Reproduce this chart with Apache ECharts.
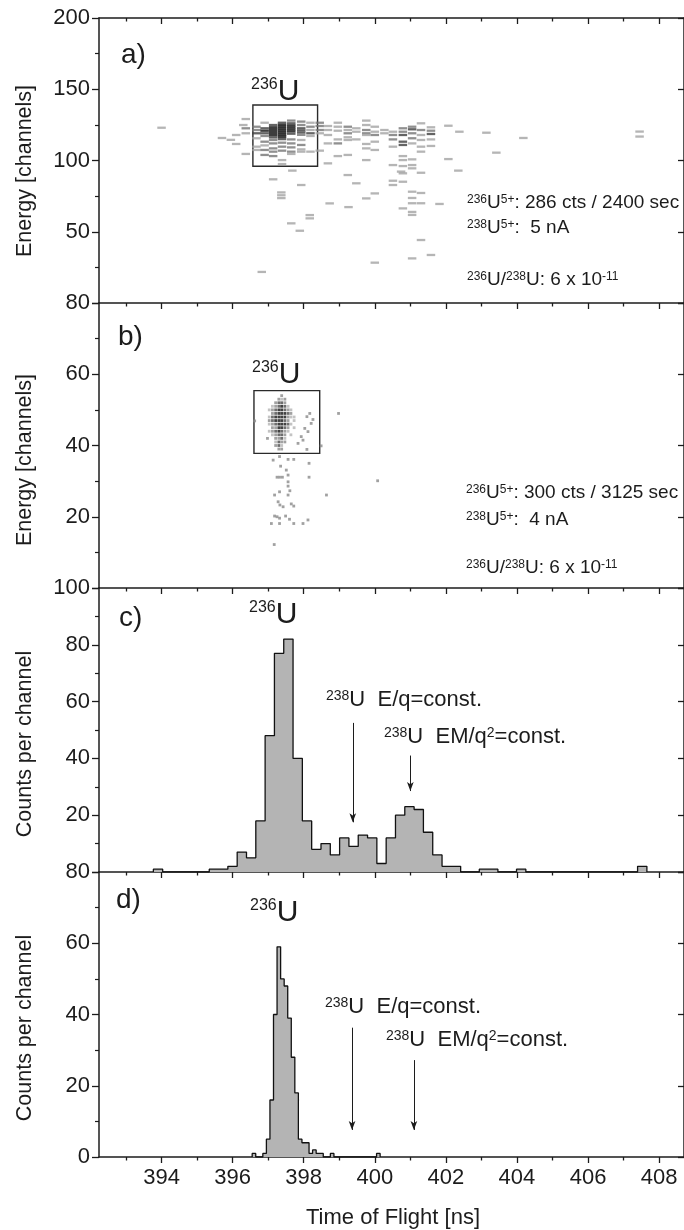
<!DOCTYPE html>
<html>
<head>
<meta charset="utf-8">
<title>236U time of flight spectra</title>
<script src="https://cdn.jsdelivr.net/npm/echarts@6/dist/echarts.min.js"></script>
<style>
  html, body { margin: 0; padding: 0; background: #fff; }
  #main { width: 684px; height: 1230px; }
</style>
</head>
<body>
<div id="main"></div>
<script>
// ---- data ----
var tofMin = 392.24, tofMax = 408.7;
var majorTicks = [394, 396, 398, 400, 402, 404, 406, 408];
var minorTicks = [393, 395, 397, 399, 401, 403, 405, 407];

// a) energy vs TOF, cells [tof, energy, shade 1..4]
var scatterA = [
  [394.0, 123.0, 1], [395.7, 115.8, 1], [395.95, 114.5, 1], [396.1, 117.9, 1], [396.1, 111.6, 1],
  [396.37, 129.1, 1], [396.37, 122.6, 2], [396.37, 119.1, 1], [396.37, 104.6, 1], [396.3, 124.9, 1],
  [396.67, 123.7, 2], [396.67, 121.4, 2], [396.67, 119.1, 3], [396.67, 115.6, 1], [396.67, 109.7, 1], [396.67, 107.4, 1],
  [396.9, 126.5, 1], [396.9, 122.6, 3], [396.9, 120.9, 4], [396.9, 119.1, 3], [396.9, 117.2, 2], [396.9, 113.2, 2],
  [396.9, 110.6, 1], [396.9, 107.4, 2], [396.9, 103.9, 2],
  [397.14, 124.9, 3], [397.14, 123.3, 4], [397.14, 121.9, 4], [397.14, 120.5, 4], [397.14, 119.1, 4], [397.14, 117.7, 4],
  [397.14, 116.2, 3], [397.14, 114.4, 2], [397.14, 112.0, 2], [397.14, 108.5, 2], [397.14, 106.2, 2], [397.14, 103.1, 2],
  [397.39, 126.5, 3], [397.39, 125.0, 4], [397.39, 123.6, 4], [397.39, 122.2, 4], [397.39, 120.8, 4], [397.39, 119.4, 4],
  [397.39, 118.0, 4], [397.39, 116.6, 4], [397.39, 115.0, 3], [397.39, 112.5, 2], [397.39, 109.7, 2], [397.39, 106.9, 2],
  [397.39, 100.3, 1], [397.39, 97.5, 1],
  [397.65, 128.0, 2], [397.65, 126.1, 3], [397.65, 124.6, 4], [397.65, 123.2, 4], [397.65, 121.8, 4], [397.65, 120.4, 4],
  [397.65, 118.8, 3], [397.65, 114.8, 2], [397.65, 112.0, 2], [397.65, 109.2, 2], [397.65, 106.2, 2], [397.65, 104.6, 1],
  [397.93, 127.3, 2], [397.93, 124.9, 2], [397.93, 122.6, 3], [397.93, 121.1, 3], [397.93, 119.6, 3], [397.93, 118.0, 2],
  [397.93, 114.4, 1], [397.93, 110.9, 2], [397.93, 107.8, 1], [397.93, 106.2, 1],
  [398.19, 126.5, 1], [398.19, 123.7, 2], [398.19, 121.4, 1], [398.19, 119.1, 3], [398.19, 117.2, 1], [398.19, 106.2, 1],
  [398.45, 126.5, 2], [398.45, 124.2, 2], [398.45, 121.4, 2], [398.45, 119.1, 1], [398.45, 106.9, 1],
  [398.68, 124.2, 1], [398.68, 121.4, 1], [398.68, 117.9, 1], [398.68, 112.0, 1], [398.68, 98.0, 1],
  [398.96, 126.5, 1], [398.96, 123.7, 1], [398.96, 120.9, 1], [398.96, 114.8, 1], [398.96, 112.0, 2], [398.96, 103.1, 1],
  [399.24, 123.7, 2], [399.24, 121.4, 1], [399.24, 119.1, 2], [399.24, 116.3, 1], [399.24, 114.4, 1], [399.24, 103.9, 1],
  [399.24, 89.8, 1], [399.26, 67.3, 1],
  [399.48, 122.6, 1], [399.48, 120.2, 1], [399.48, 114.8, 1], [399.48, 84.0, 1],
  [399.76, 128.0, 1], [399.76, 124.9, 1], [399.76, 121.4, 2], [399.76, 119.1, 2], [399.76, 117.9, 1], [399.76, 111.6, 1],
  [399.76, 108.5, 1], [399.76, 100.3, 1], [399.76, 73.4, 1],
  [400.0, 123.7, 1], [400.0, 120.2, 1], [400.0, 117.9, 2], [400.0, 113.2, 1], [400.0, 107.4, 1], [400.0, 76.9, 1], [400.0, 28.3, 1],
  [400.27, 121.4, 1], [400.27, 119.1, 1],
  [400.51, 120.2, 1], [400.51, 117.9, 2], [400.51, 114.8, 2], [400.51, 109.7, 1], [400.51, 96.8, 1], [400.51, 85.8, 1], [400.51, 82.8, 1],
  [400.79, 122.6, 2], [400.79, 120.2, 2], [400.79, 117.9, 3], [400.79, 113.2, 3], [400.79, 110.9, 3], [400.79, 103.1, 1],
  [400.79, 100.3, 1], [400.79, 96.1, 1], [400.79, 91.0, 1], [400.79, 85.1, 1], [400.79, 66.4, 1],
  [401.05, 123.7, 2], [401.05, 121.9, 3], [401.05, 119.1, 2], [401.05, 115.6, 2], [401.05, 112.0, 1], [401.05, 100.8, 1],
  [401.05, 96.8, 1], [401.05, 94.5, 1], [401.05, 78.1, 1], [401.05, 73.7, 1], [401.05, 70.0, 1], [401.05, 63.9, 1],
  [401.05, 61.8, 1], [401.05, 31.3, 1],
  [401.3, 126.1, 1], [401.3, 121.4, 2], [401.3, 117.9, 1], [401.3, 114.4, 1], [401.3, 109.7, 1], [401.3, 106.2, 1],
  [401.3, 91.4, 1], [401.3, 77.2, 1], [401.3, 70.0, 1], [401.3, 44.2, 1],
  [401.58, 123.3, 1], [401.58, 120.9, 2], [401.58, 118.6, 3], [401.58, 114.8, 1], [401.58, 110.2, 1], [401.58, 33.7, 1],
  [401.82, 69.5, 1], [402.07, 124.4, 1], [402.07, 101.0, 1], [402.38, 120.2, 1], [402.35, 92.9, 1],
  [403.14, 119.5, 1], [403.42, 105.5, 1], [404.18, 115.8, 1], [407.45, 120.3, 1], [407.45, 116.8, 1],
  [396.82, 21.8, 1], [397.65, 55.9, 1], [397.89, 50.7, 1], [398.17, 61.7, 1], [398.17, 59.4, 1],
  [397.37, 77.6, 1], [397.37, 75.6, 1], [397.37, 73.6, 1], [397.14, 86.8, 1], [397.93, 82.8, 1],
  [397.68, 92.9, 1], [398.73, 69.9, 1], [400.74, 92.2, 1]
];

// b) core of the energy-TOF map: shade of each cell, one string per energy row
var coreBTof = [397.03, 397.12, 397.21, 397.30, 397.38, 397.47, 397.56, 397.64, 397.73, 397.82];
var coreBEnergy = [54, 53, 52, 51, 50, 49, 48, 47, 46, 45, 44, 43, 42, 41, 40, 39];
var coreBShade = [
  '0000200000',
  '0002120000',
  '0023320000',
  '0123431000',
  '1234432100',
  '0234443200',
  '1344442110',
  '2344432010',
  '1234443100',
  '0224432010',
  '1234321000',
  '0123320100',
  '0022310000',
  '0013220000',
  '0023100000',
  '0002200000'
];
// b) single counts outside the core [tof, energy]
var scatterB = [
  [396.62, 46.9], [396.98, 42.0],
  [398.17, 49.0], [398.09, 48.1], [398.26, 47.3], [398.21, 46.2], [398.03, 44.8], [398.12, 43.9],
  [397.93, 42.5], [397.98, 41.5], [397.84, 40.6], [398.09, 38.9], [398.49, 39.9],
  [397.14, 35.9], [397.32, 36.9], [397.56, 36.1], [397.72, 36.1], [398.15, 35.0], [397.35, 34.2],
  [397.51, 33.1], [397.25, 31.1], [397.32, 31.1], [397.40, 31.1], [397.56, 31.7], [398.15, 31.1],
  [397.56, 29.8], [397.56, 28.6], [397.61, 27.3], [397.32, 27.0], [397.18, 26.1], [397.56, 26.1],
  [398.64, 26.1], [397.28, 24.2], [397.33, 23.3], [397.42, 22.8], [397.65, 23.6], [397.72, 23.0],
  [397.18, 20.2], [397.25, 20.0], [397.32, 19.6], [397.49, 20.2], [397.60, 19.3], [398.12, 19.1],
  [397.09, 18.1], [397.32, 18.1], [397.72, 18.1], [397.98, 18.1], [397.17, 12.2],
  [398.98, 49.0], [400.08, 30.1]
];

// gates drawn in a) and b): [tofFrom, energyFrom], [tofTo, energyTo]
var boxA = [[396.57, 96], [398.39, 139]];
var boxB = [[396.6, 37.8], [398.45, 55.4]];

// c) TOF histogram, all events
var histCStart = 393.77, histCWidth = 0.262;
var histCCounts = [1, 0, 0, 0, 0, 0, 1, 1, 2, 7, 5, 18, 48, 77, 82, 40, 18, 8, 10, 6, 12, 9, 13, 12, 3, 12, 20, 23,
  22, 14, 6, 2, 2, 0, 0, 1, 1, 0, 0, 1, 0, 0, 0, 0, 0, 0, 0, 0, 0, 0, 0, 0, 2];

// d) TOF histogram, gated on the box of b)
var histDStart = 396.55, histDWidth = 0.1;
var histDCounts = [1, 0, 0, 1, 5, 16, 40, 59, 50, 48, 39, 28, 18, 5, 4, 4, 1, 2, 1, 1, 0, 0, 1, 0, 0, 0, 0, 0, 0, 0,
  0, 0, 0, 0, 0, 1];

// arrows: [tof, countFrom, countTo]
var arrowsC = [[399.38, 52.5, 17.5], [401.0, 41, 28.5]];
var arrowsD = [[399.36, 36.3, 7.6], [401.1, 27.2, 7.6]];

// ---- chart ----
var FONT = '"Liberation Sans", Arial, Helvetica, sans-serif';
var INK = '#1c1c1c';
var shadeA = ['#ffffff', '#a2a2a2', '#747474', '#3d3d3d', '#0e0e0e'];
var shadeB = ['#ffffff', '#b4b4b4', '#8a8a8a', '#4a4a4a', '#121212'];

function stepPoints(start, width, counts) {
  var pts = [[start, 0]];
  for (var i = 0; i < counts.length; i++) {
    pts.push([start + i * width, counts[i]]);
  }
  pts.push([start + counts.length * width, 0]);
  return pts;
}

// cells of panel b: core table plus the single counts
var cellsB = [];
coreBShade.forEach(function (row, r) {
  for (var c = 0; c < row.length; c++) {
    var s = +row.charAt(c);
    if (s > 0) cellsB.push([coreBTof[c], coreBEnergy[r], s]);
  }
});
scatterB.forEach(function (p) { cellsB.push([p[0], p[1], 2]); });

function makeX(gi, pos, ticks, len, labels, inside, line) {
  return {
    gridIndex: gi, type: 'value', position: pos, min: tofMin, max: tofMax,
    axisLine: { show: line, onZero: false, lineStyle: { color: INK, width: 1.5 } },
    axisTick: { show: true, inside: inside, length: len, customValues: ticks, lineStyle: { color: INK, width: 1.3 } },
    axisLabel: { show: labels, customValues: ticks, fontFamily: FONT, fontSize: 22, color: INK, margin: 10 },
    splitLine: { show: false }
  };
}

var panelTops = [18, 303, 588, 872];
var panelHeights = [285, 285, 284, 285];
var yMax = [200, 80, 100, 80];
var yStep = [50, 20, 20, 20];

var grid = [], xAxis = [], yAxis = [];
for (var i = 0; i < 4; i++) {
  grid.push({ left: 99, top: panelTops[i], width: 586, height: panelHeights[i] });
  xAxis.push(makeX(i, 'bottom', majorTicks, 6, i === 3, false, true));
  xAxis.push(makeX(i, 'bottom', minorTicks, 3.5, false, false, false));
  yAxis.push({
    gridIndex: i, type: 'value', position: 'left', min: 0, max: yMax[i], interval: yStep[i],
    axisLine: { show: true, onZero: false, lineStyle: { color: INK, width: 1.5 } },
    axisTick: { show: true, inside: false, length: 7, lineStyle: { color: INK, width: 1.3 } },
    minorTick: { show: true, splitNumber: 2, length: 4, lineStyle: { color: INK, width: 1.2 } },
    axisLabel: { showMinLabel: i === 3, showMaxLabel: true, fontFamily: FONT, fontSize: 22, color: INK, margin: 9 },
    splitLine: { show: false }
  });
  yAxis.push({
    gridIndex: i, type: 'value', position: 'right', min: 0, max: yMax[i], interval: yStep[i],
    axisLine: { show: true, onZero: false, lineStyle: { color: INK, width: 1.5 } },
    axisTick: { show: true, inside: true, length: 6, lineStyle: { color: INK, width: 1.3 } },
    axisLabel: { show: false },
    splitLine: { show: false }
  });
}
// top frame of panel a) with inward ticks
xAxis.push(makeX(0, 'top', majorTicks, 6, false, true, true));
xAxis.push(makeX(0, 'top', minorTicks, 3.5, false, true, false));

function boxArea(box) {
  return {
    silent: true,
    itemStyle: { color: 'rgba(0,0,0,0)', borderColor: '#2a2a2a', borderWidth: 1.4 },
    data: [[{ coord: box[0] }, { coord: box[1] }]]
  };
}

// narrow arrow heads: symbolSize at markLine level is read as [width, height]
function arrowLines(arrows) {
  return {
    silent: true, symbol: ['none', 'arrow'], symbolSize: [5, 9],
    label: { show: false },
    lineStyle: { color: INK, width: 1, type: 'solid' },
    itemStyle: { color: INK },
    data: arrows.map(function (a) { return [{ coord: [a[0], a[1]] }, { coord: [a[0], a[2]] }]; })
  };
}

function txt(x, y, text, size, rich, extra) {
  var el = {
    type: 'text', x: x, y: y, silent: true,
    style: {
      text: text, fontFamily: FONT, fontSize: size, fill: INK,
      align: 'left', verticalAlign: 'middle', textAlign: 'left', textVerticalAlign: 'middle',
      rich: rich || {}
    }
  };
  if (extra) { for (var k in extra) el[k] = extra[k]; }
  return el;
}
var isoRich = {
  s: { fontFamily: FONT, fontSize: 16, verticalAlign: 'top', fill: INK },
  u: { fontFamily: FONT, fontSize: 30, verticalAlign: 'bottom', fill: INK }
};
var infoRich = {
  s: { fontFamily: FONT, fontSize: 12, verticalAlign: 'top', fill: INK },
  m: { fontFamily: FONT, fontSize: 19, verticalAlign: 'bottom', fill: INK }
};
var noteRich = {
  s: { fontFamily: FONT, fontSize: 14, verticalAlign: 'top', fill: INK },
  m: { fontFamily: FONT, fontSize: 22, verticalAlign: 'bottom', fill: INK }
};

var graphic = [
  txt(121, 55, 'a)', 28), txt(118, 337, 'b)', 28), txt(119, 618, 'c)', 28), txt(116, 900, 'd)', 28),
  txt(251, 92, '{s|236}{u|U}', 30, isoRich),
  txt(252, 375, '{s|236}{u|U}', 30, isoRich),
  txt(249, 615, '{s|236}{u|U}', 30, isoRich),
  txt(250, 913, '{s|236}{u|U}', 30, isoRich),
  txt(467, 203, '{s|236}{m|U}{s|5+}{m|: 286 cts / 2400 sec}', 19, infoRich),
  txt(467, 228, '{s|238}{m|U}{s|5+}{m|:  5 nA}', 19, infoRich),
  txt(467, 280, '{s|236}{m|U/}{s|238}{m|U: 6 x 10}{s|-11}', 19, infoRich),
  txt(466, 493, '{s|236}{m|U}{s|5+}{m|: 300 cts / 3125 sec}', 19, infoRich),
  txt(466, 520, '{s|238}{m|U}{s|5+}{m|:  4 nA}', 19, infoRich),
  txt(466, 568, '{s|236}{m|U/}{s|238}{m|U: 6 x 10}{s|-11}', 19, infoRich),
  txt(326, 700, '{s|238}{m|U  E/q=const.}', 22, noteRich),
  txt(384, 737, '{s|238}{m|U  EM/q}{s|2}{m|=const.}', 22, noteRich),
  txt(325, 1007, '{s|238}{m|U  E/q=const.}', 22, noteRich),
  txt(386, 1040, '{s|238}{m|U  EM/q}{s|2}{m|=const.}', 22, noteRich),
  txt(25, 171, 'Energy [channels]', 21.5, null, { rotation: Math.PI / 2 }),
  txt(25, 460, 'Energy [channels]', 21.5, null, { rotation: Math.PI / 2 }),
  txt(25, 744, 'Counts per channel', 21.5, null, { rotation: Math.PI / 2 }),
  txt(25, 1028, 'Counts per channel', 21.5, null, { rotation: Math.PI / 2 }),
  txt(393, 1218, 'Time of Flight [ns]', 22)
];
// centre the rotated and bottom titles
for (var g = graphic.length - 5; g < graphic.length; g++) {
  graphic[g].style.align = 'center';
  graphic[g].style.textAlign = 'center';
}

var option = {
  animation: false,
  backgroundColor: '#ffffff',
  grid: grid,
  xAxis: xAxis,
  yAxis: yAxis,
  graphic: graphic,
  series: [
    {
      type: 'scatter', xAxisIndex: 0, yAxisIndex: 0, data: scatterA,
      symbol: 'rect', symbolSize: [8.5, 2.3], silent: true,
      itemStyle: { color: function (p) { return shadeA[p.value[2]]; } },
      markArea: boxArea(boxA)
    },
    {
      type: 'scatter', xAxisIndex: 2, yAxisIndex: 2, data: cellsB,
      symbol: 'rect', symbolSize: [2.8, 2.8], silent: true,
      itemStyle: { color: function (p) { return shadeB[p.value[2]]; } },
      markArea: boxArea(boxB)
    },
    {
      type: 'line', xAxisIndex: 4, yAxisIndex: 4, step: 'end', showSymbol: false, silent: true,
      data: stepPoints(histCStart, histCWidth, histCCounts),
      lineStyle: { color: '#111', width: 1.3 },
      areaStyle: { color: '#b4b4b4', opacity: 1 },
      markLine: arrowLines(arrowsC)
    },
    {
      type: 'line', xAxisIndex: 6, yAxisIndex: 6, step: 'end', showSymbol: false, silent: true,
      data: stepPoints(histDStart, histDWidth, histDCounts),
      lineStyle: { color: '#111', width: 1.3 },
      areaStyle: { color: '#b4b4b4', opacity: 1 },
      markLine: arrowLines(arrowsD)
    }
  ]
};

var chart = echarts.init(document.getElementById('main'));
chart.setOption(option);
</script>
</body>
</html>
